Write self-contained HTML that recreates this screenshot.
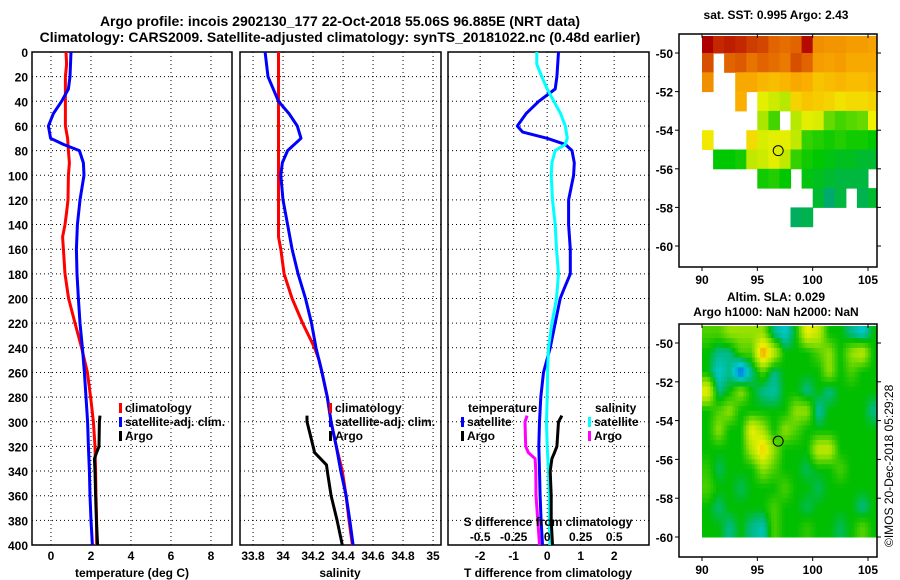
<!DOCTYPE html>
<html><head><meta charset="utf-8"><style>
html,body{margin:0;padding:0;background:#fff;}
svg{display:block;font-family:"Liberation Sans",sans-serif;font-weight:bold;}
</style></head><body>
<svg id="fig" width="900" height="580" viewBox="0 0 900 580" xmlns="http://www.w3.org/2000/svg">
<text x="340" y="26" font-size="14" text-anchor="middle">Argo profile: incois 2902130_177 22-Oct-2018 55.06S 96.885E (NRT data)</text>
<text x="340" y="42" font-size="14" text-anchor="middle">Climatology: CARS2009. Satellite-adjusted climatology: synTS_20181022.nc (0.48d earlier)</text>
<text x="776" y="19" font-size="12" text-anchor="middle">sat. SST: 0.995 Argo: 2.43</text>
<text x="776" y="301" font-size="12" text-anchor="middle">Altim. SLA: 0.029</text>
<text x="776" y="316" font-size="12" text-anchor="middle">Argo h1000: NaN h2000: NaN</text>
<text transform="translate(893,547) rotate(-90)" font-size="12" font-weight="normal">©IMOS 20-Dec-2018 05:29:28</text>
</svg>
<script>
// ---- depth axis ----
const depthTicks=[0,20,40,60,80,100,120,140,160,180,200,220,240,260,280,300,320,340,360,380,400];
// ---- temperature panel ----
const tempTicks=[0,2,4,6,8];
const climTDepth=[0,10,20,40,60,70,80,90,100,120,130,140,150,160,180,200,220,240,260,280,300,320,340,360,380,400];
const climT=[0.75,0.78,0.72,0.72,0.72,0.83,0.87,0.92,0.87,0.85,0.78,0.7,0.58,0.62,0.7,0.88,1.2,1.53,1.82,1.98,2.12,2.2,2.23,2.25,2.28,2.28];
const satTDepth=[0,20,30,40,50,60,70,75,80,90,100,120,140,160,180,200,220,240,260,280,300,320,340,360,380,400];
const satT=[1.0,0.95,0.87,0.53,0.12,-0.13,-0.02,0.62,1.42,1.62,1.65,1.45,1.32,1.27,1.3,1.37,1.45,1.57,1.67,1.75,1.83,1.87,1.92,1.95,2.0,2.07];
const argoDepth=[295,300,320,325,330,340,360,380,400];
const argoT=[2.45,2.42,2.4,2.28,2.17,2.2,2.23,2.27,2.33];
// ---- salinity panel ----
const salTicks=[33.8,34,34.2,34.4,34.6,34.8,35];
const salTickLabels=["33.8","34","34.2","34.4","34.6","34.8","35"];
const climSDepth=[0,140,150,160,180,200,220,240,250,260,280,300,320,340,360,380,400];
const climS=[33.97,33.97,33.97,33.985,34.007,34.06,34.13,34.21,34.24,34.26,34.295,34.32,34.355,34.395,34.42,34.44,34.462];
const satSDepth=[0,20,40,50,60,70,80,90,100,120,140,160,180,200,220,240,260,280,300,320,340,360,380,400];
const satS=[33.88,33.9,33.97,34.04,34.095,34.12,34.03,33.995,33.985,34.0,34.03,34.06,34.1,34.15,34.19,34.22,34.26,34.295,34.32,34.355,34.385,34.42,34.445,34.467];
const argoSDepth=[295,300,310,320,325,335,340,360,380,400];
const argoS=[34.16,34.16,34.18,34.2,34.21,34.29,34.295,34.32,34.36,34.395];
// ---- difference panel ----
const dTTicks=[-2,-1,0,1,2];
const dSTicks=[-0.5,-0.25,0,0.25,0.5];
const dSTickLabels=["-0.5","-0.25","0","0.25","0.5"];
const satdTDepth=[0,20,30,40,50,60,65,70,75,80,90,100,120,140,160,180,193,200,220,240,260,280,300,320,340,360,380,400];
const satdT=[0.34,0.29,0.24,-0.25,-0.63,-0.89,-0.73,0.0,0.54,0.74,0.81,0.79,0.64,0.64,0.69,0.69,0.49,0.39,0.24,0.09,-0.11,-0.19,-0.23,-0.25,-0.23,-0.21,-0.18,-0.14];
const argodT=[0.44,0.34,0.29,0.22,0.14,0.09,0.12,0.12,0.16];
const satdSDepth=[0,10,20,30,40,50,60,70,75,80,90,100,120,140,160,180,200,220,240,260,280,300,320,340,360,380,400];
const satdS=[-0.077,-0.077,-0.04,0.0,0.05,0.1,0.135,0.15,0.135,0.06,0.035,0.03,0.04,0.06,0.07,0.085,0.07,0.035,0.01,0.003,0,-0.005,0,0.01,0.015,0.016,0.02];
const argodS=[-0.15,-0.165,-0.16,-0.14,-0.09,-0.085,-0.083,-0.07,-0.057];
// ---- SST map (rows lat -49..-61, cols lon 90..105) ; null = no data ----
const sstLon=[90,91,92,93,94,95,96,97,98,99,100,101,102,103,104,105];
const sstLat=[-49,-50,-51,-52,-53,-54,-55,-56,-57,-58,-59,-60];
const sstVals=[
[5.6,5.2,5.3,5.2,5.0,4.9,4.6,4.5,4.6,5.5,4.0,3.9,3.9,3.8,3.8,3.7],
[4.8,null,4.6,4.7,4.4,4.6,4.5,4.3,4.8,4.6,3.8,3.7,3.8,3.6,3.6,3.6],
[4.0,null,null,3.6,3.6,3.4,3.3,3.4,3.6,3.5,3.2,3.3,3.4,3.3,3.3,3.4],
[null,null,null,3.5,null,2.5,2.3,2.1,3.0,3.2,3.1,3.0,2.8,2.9,2.9,3.0],
[null,null,null,null,null,2.0,1.4,null,2.1,2.5,2.4,1.6,1.4,1.5,1.6,2.6],
[2.7,null,null,null,2.9,2.4,2.5,2.5,2.2,1.3,1.2,1.1,1.2,1.1,1.1,1.0],
[null,1.0,1.0,1.1,2.2,2.3,2.5,2.2,1.3,1.1,1.0,0.9,0.8,0.8,0.7,0.7],
[null,null,null,null,null,1.1,1.2,1.0,null,0.9,0.8,0.7,0.6,0.6,0.6,null],
[null,null,null,null,null,null,null,null,null,null,0.7,0.3,0.6,null,0.5,0.7],
[null,null,null,null,null,null,null,null,0.4,0.5,null,null,null,null,null,null],
[null,null,null,null,null,null,null,null,null,null,null,null,null,null,null,null],
[null,null,null,null,null,null,null,null,null,null,null,null,null,null,null,null]];
const sstYTicks=[-50,-52,-54,-56,-58,-60];
const mapXTicks=[90,95,100,105];
// ---- SLA map (rows lat -49..-59, cols lon 90..105) ----
const slaLat=[-49,-50,-51,-52,-53,-54,-55,-56,-57,-58,-59];
const slaVals=[
[0.5,0.5,1,1,1,1,-0.5,-1,0,2,1.5,0,0,-0.5,-1,0],
[0,-0.5,-0.5,0.5,0.5,3,1.5,0,0,0,0.5,1,0,1,1.5,0],
[0,-1,-0.5,-2,-0.5,0.5,-0.5,0,0,0,0,1,0,0.5,0,0],
[2,-0.5,0,1,0,-0.5,-0.7,0,0,-0.5,0,-0.5,0,0,0,0],
[0,0.5,1,0,0,0,0,0,1,1,-0.7,0,0,0,0,-0.5],
[0,1,0,0,2,1.2,0,1,0.5,0,0,0,0,0,0,0],
[0,0,0,0,1.3,2.5,1,0,0,0,1.5,1.5,0,0,0,0],
[0.3,-0.3,0,0,0,1,0.5,0,0,-0.3,0,0,0.5,0,0,0],
[0.5,0,0,-0.3,0,0,0,0.5,0,0,-0.3,0,0,0,0,0],
[0,-0.4,0,0,0,0,0.5,0,0,-0.3,0,0,0,0,-0.5,0],
[0,0,-0.5,0,-0.5,-0.8,0.5,0,0,0.3,0,0,-0.3,0,0.6,0]];
const slaYTicks=[-50,-52,-54,-56,-58,-60];
const argoLon=[96.885];
const argoLat=[-55.06];

const NS='http://www.w3.org/2000/svg';
const svg=document.getElementById('fig');
function mk(tag,attrs,parent){const e=document.createElementNS(NS,tag);for(const k in attrs)e.setAttribute(k,attrs[k]);(parent||svg).appendChild(e);return e;}
function lin(d0,d1,r0,r1){return v=>r0+(v-d0)*(r1-r0)/(d1-d0);}

const PY0=52,PY1=545;
const yDepth=lin(0,400,PY0,PY1);
function profilePanel(name,x0,x1,xs,xticks){
  const g=mk('g',{});
  
  
  xticks.forEach(t=>{const l=mk('line',{x1:xs(t),x2:xs(t),y1:PY0,y2:PY1,stroke:'#000','stroke-width':1,'stroke-dasharray':'1,3'},g);
    });
  depthTicks.forEach(t=>{const l=mk('line',{x1:x0,x2:x1,y1:yDepth(t),y2:yDepth(t),stroke:'#000','stroke-width':1,'stroke-dasharray':'1,3'},g);
    });
  const r=mk('rect',{x:x0,y:PY0,width:x1-x0,height:PY1-PY0,fill:'none',stroke:'#000','stroke-width':1.5},g);
  
  return g;
}
function line(g,xs,xv,dv,color,name){
  const pts=xv.map((v,i)=>xs(v).toFixed(1)+','+yDepth(dv[i]).toFixed(1)).join(' ');
  const p=mk('polyline',{points:pts,fill:'none',stroke:color,'stroke-width':3,'stroke-linejoin':'round'},g);
  
}
function text(x,y,s,opts,name){const t=mk('text',Object.assign({x:x,y:y,'font-size':12},opts||{}));t.textContent=s;
  return t;}
function legend(x,y,color,s,name){const r=mk('rect',{x:x,y:y-9,width:3,height:10,fill:color});
  
  text(x+6,y,s,{},name+'-label');}

depthTicks.forEach(t=>text(28,yDepth(t)+5,String(t),{'text-anchor':'end'},'depth-tick-label'));

// Panel 1
const xT=lin(-0.95,9.05,32,232);
const g1=profilePanel('temperature',32,232,xT,tempTicks);
line(g1,xT,climT,climTDepth,'#ff0000','climatology-temperature-line');
line(g1,xT,satT,satTDepth,'#0000ff','satellite-temperature-line');
line(g1,xT,argoT,argoDepth,'#000000','argo-temperature-line');
tempTicks.forEach(t=>text(xT(t),560,String(t),{'text-anchor':'middle'},'temperature-tick-label'));
text(132,577,'temperature (deg C)',{'text-anchor':'middle'},'temperature-axis-title');
legend(119,412,'#ff0000','climatology','legend-climatology');
legend(119,426,'#0000ff','satellite-adj. clim.','legend-satellite');
legend(119,440,'#000','Argo','legend-argo');

// Panel 2
const xS=lin(33.713,35.053,240,441);
const g2=profilePanel('salinity',240,441,xS,salTicks);
line(g2,xS,climS,climSDepth,'#ff0000','climatology-salinity-line');
line(g2,xS,satS,satSDepth,'#0000ff','satellite-salinity-line');
line(g2,xS,argoS,argoSDepth,'#000000','argo-salinity-line');
salTicks.forEach((t,i)=>text(xS(t),560,salTickLabels[i],{'text-anchor':'middle'},'salinity-tick-label'));
text(340,577,'salinity',{'text-anchor':'middle'},'salinity-axis-title');
legend(329,412,'#ff0000','climatology','legend-climatology-s');
legend(329,426,'#0000ff','satellite-adj. clim.','legend-satellite-s');
legend(329,440,'#000','Argo','legend-argo-s');

// Panel 3
const xdT=lin(-2.96,3.04,448,649);
const xdS=lin(-0.74,0.76,448,649);
const g3=profilePanel('difference',448,649,xdT,dTTicks);
line(g3,xdS,argodS,argoDepth,'#ff00ff','argo-salinity-diff-line');
line(g3,xdT,satdT,satdTDepth,'#0000ff','satellite-temperature-diff-line');
line(g3,xdS,satdS,satdSDepth,'#00ffff','satellite-salinity-diff-line');
line(g3,xdT,argodT,argoDepth,'#000000','argo-temperature-diff-line');
dTTicks.forEach(t=>text(xdT(t),560,String(t),{'text-anchor':'middle'},'tdiff-tick-label'));
text(548,577,'T difference from climatology',{'text-anchor':'middle'},'tdiff-axis-title');
text(548,526,'S difference from climatology',{'text-anchor':'middle'},'sdiff-axis-title');
dSTicks.forEach((t,i)=>text(xdS(t),541,dSTickLabels[i],{'text-anchor':'middle'},'sdiff-tick-label'));
text(468,412,'temperature',{},'legend-temperature-heading');
legend(461,426,'#0000ff','satellite','legend-t-satellite');
legend(461,440,'#000','Argo','legend-t-argo');
text(595,412,'salinity',{},'legend-salinity-heading');
legend(588,426,'#00ffff','satellite','legend-s-satellite');
legend(588,440,'#ff00ff','Argo','legend-s-argo');

function interp(stops,v){if(v<=stops[0][0])return 'rgb('+stops[0][1].join(',')+')';
  for(let i=1;i<stops.length;i++){if(v<=stops[i][0]){const a=stops[i-1],b=stops[i],f=(v-a[0])/(b[0]-a[0]);
    return 'rgb('+a[1].map((c,k)=>Math.round(c+(b[1][k]-c)*f)).join(',')+')';}}
  return 'rgb('+stops[stops.length-1][1].join(',')+')';}
const sstStops=[[0.3,[0,170,110]],[1,[0,200,0]],[2,[170,230,0]],[2.6,[240,240,0]],[3.5,[250,175,0]],[4.5,[230,110,0]],[5.6,[175,0,0]]];
const slaStops=[[-2,[0,90,230]],[-1,[0,200,210]],[-0.4,[0,185,120]],[0,[0,190,0]],[1,[150,225,0]],[2,[240,240,0]],[3,[240,140,0]]];
function col(stops,v){return interp(stops,v);}

function mapFrame(name,x0,x1,y0,y1,lonS,latS,yticks){
  const r=mk('rect',{x:x0,y:y0,width:x1-x0,height:y1-y0,fill:'none',stroke:'#000','stroke-width':1.5});
  
  yticks.forEach(t=>{const y=latS(t);
    const l=mk('line',{x1:x0-4,x2:x0,y1:y,y2:y,stroke:'#000'});
    const l2=mk('line',{x1:x1,x2:x1+4,y1:y,y2:y,stroke:'#000'});
    text(x0-6,y+5,String(t),{'text-anchor':'end'},name+'-y-tick-label');});
  mapXTicks.forEach(t=>{const x=lonS(t);
    const l=mk('line',{x1:x,x2:x,y1:y1,y2:y1+4,stroke:'#000'});
    const l2=mk('line',{x1:x,x2:x,y1:y0,y2:y0+4,stroke:'#000'});
    text(x,y1+17,String(t),{'text-anchor':'middle'},name+'-x-tick-label');});
}
// SST map
const sLon=lin(90,105,702,868), sLat=lin(-50,-60,53,246);
const gs=mk('g',{});
sstVals.forEach((row,i)=>row.forEach((v,j)=>{if(v===null)return;
  const x=sLon(sstLon[j]),y=Math.max(sLat(sstLat[i]),36);const w=Math.min(sLon(sstLon[j]+1),876)-x;
  const c=mk('rect',{x:x.toFixed(1),y:y.toFixed(1),width:(w+0.5).toFixed(1),height:(sLat(sstLat[i]-1)-y+0.5).toFixed(1),fill:col(sstStops,v)},gs);
  }));
const ca=mk('circle',{cx:sLon(argoLon[0]),cy:sLat(argoLat[0]),r:5,fill:col(sstStops,2.43),stroke:'#000','stroke-width':1});

mapFrame('sst-map',679,877,34,267,sLon,sLat,sstYTicks);
// SLA map, bilinear-smoothed rendering of the grid
const aLon=lin(90,105,702,868), aLat=lin(-50,-60,343,537);
const ga=mk('g',{});
const NR=slaVals.length, NC=slaVals[0].length, SUB=4;
function slaAt(r,c){r=Math.max(0,Math.min(NR-1,r));c=Math.max(0,Math.min(NC-1,c));
  const r0=Math.floor(r),c0=Math.floor(c),r1=Math.min(NR-1,r0+1),c1=Math.min(NC-1,c0+1),fr=r-r0,fc=c-c0;
  return slaVals[r0][c0]*(1-fr)*(1-fc)+slaVals[r0][c1]*(1-fr)*fc+slaVals[r1][c0]*fr*(1-fc)+slaVals[r1][c1]*fr*fc;}
for(let i=0;i<NR*SUB;i++)for(let j=0;j<NC*SUB;j++){
  const lat=slaLat[0]-i/SUB, lon=sstLon[0]+j/SUB;
  const v=slaAt((i+0.5)/SUB-0.5,(j+0.5)/SUB-0.5);
  const x=aLon(lon), y=Math.max(aLat(lat),326);
  const x2=Math.min(aLon(lon+1/SUB),876), y2=Math.min(aLat(lat-1/SUB),539);
  if(x2<=x||y2<=y)continue;
  const c=mk('rect',{x:x.toFixed(1),y:y.toFixed(1),width:(x2-x+0.5).toFixed(1),height:(y2-y+0.5).toFixed(1),fill:col(slaStops,v)},ga);
  
}
const cb=mk('circle',{cx:aLon(argoLon[0]),cy:aLat(argoLat[0]),r:5,fill:'none',stroke:'#000','stroke-width':1});

mapFrame('sla-map',679,877,324,557,aLon,aLat,slaYTicks);
</script>
</body></html>
